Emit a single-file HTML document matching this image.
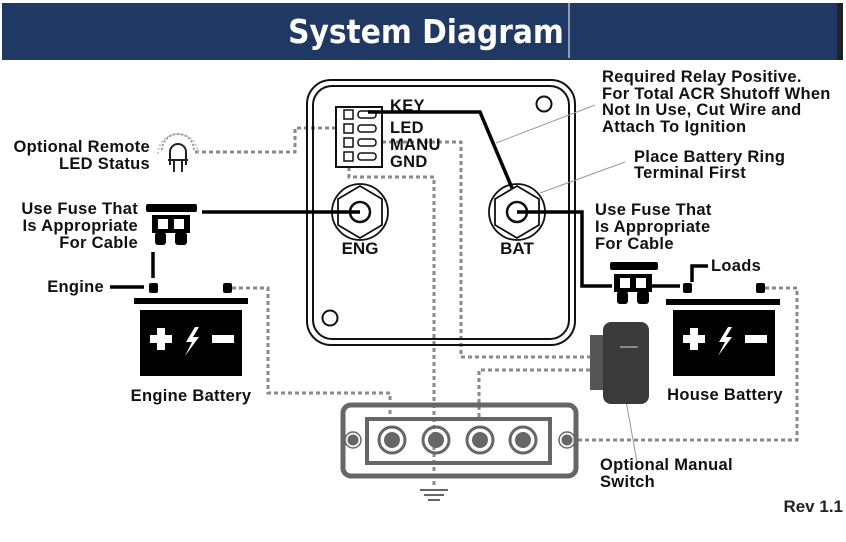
<!DOCTYPE html>
<html><head><meta charset="utf-8"><style>
body{margin:0;background:#fff;width:846px;height:542px;overflow:hidden}
svg{display:block}
text{font-family:"Liberation Sans",Arial,sans-serif;font-weight:bold;fill:#111}
</style></head><body>
<svg width="846" height="542" viewBox="0 0 846 542">
<rect x="2" y="3" width="838" height="57" fill="#1f3864"/>
<rect x="837" y="3" width="6" height="57" fill="#222"/>
<line x1="569" y1="0" x2="569" y2="58" stroke="#fff" stroke-width="1"/>
<text x="426" y="43" text-anchor="middle" style="font-size:33px;fill:#fff;font-family:'DejaVu Sans Condensed','Liberation Sans Narrow','Liberation Sans',sans-serif">System Diagram</text>

<g fill="none" stroke="#8a8a8a" stroke-width="3" stroke-dasharray="4 3">
<polyline points="195,152 295,152 295,128 335,128"/>
<polyline points="349,167 349,177 434,177 434,485"/>
<polyline points="382,142 461,142 461,357 590,357"/>
<polyline points="590,370 479,370 479,420"/>
<polyline points="232,288 268,288 268,393 390,393 390,420"/>
<polyline points="765,288 797,288 797,440 575,440"/>
</g>

<rect x="307" y="80" width="268" height="265" rx="24" fill="none" stroke="#111" stroke-width="2"/>
<rect x="313" y="86" width="256" height="253" rx="19" fill="none" stroke="#111" stroke-width="2"/>
<circle cx="544" cy="104" r="7.5" fill="none" stroke="#111" stroke-width="2"/>
<circle cx="330" cy="318" r="7.5" fill="none" stroke="#111" stroke-width="2"/>
<rect x="336" y="107" width="46" height="60" fill="#fff" stroke="#111" stroke-width="2"/>
<g fill="#fff" stroke="#111" stroke-width="1.5">
<rect x="344" y="110" width="9" height="9"/><rect x="344" y="124" width="9" height="9"/>
<rect x="344" y="138" width="9" height="9"/><rect x="344" y="152" width="9" height="9"/>
<rect x="358" y="111" width="18" height="7" rx="3"/><rect x="358" y="125" width="18" height="7" rx="3"/>
<rect x="358" y="139" width="18" height="7" rx="3"/><rect x="358" y="153" width="18" height="7" rx="3"/>
</g>
<g style="font-size:16.5px;letter-spacing:0.3px">
<text x="390" y="111">KEY</text>
<text x="390" y="133">LED</text>
<text x="390" y="150">MANU</text>
<text x="390" y="167">GND</text>
</g>
<g fill="none" stroke="#111" stroke-width="1.8">
<circle cx="360" cy="212" r="28"/>
<polygon points="360,186 382,199 382,225 360,238 338,225 338,199"/>
<circle cx="360" cy="212" r="10" stroke-width="2.5"/>
<circle cx="517" cy="212" r="28"/>
<polygon points="517,186 539,199 539,225 517,238 495,225 495,199"/>
<circle cx="517" cy="212" r="10" stroke-width="2.5"/>
</g>
<text x="360" y="254" text-anchor="middle" style="font-size:17px">ENG</text>
<text x="517" y="254" text-anchor="middle" style="font-size:17px">BAT</text>

<g fill="none" stroke="#000" stroke-width="3.5">
<polyline points="368,112 480,112 512,188"/>
<line x1="202" y1="212" x2="360" y2="212"/>
<polyline points="517,212 582,212 582,286 612,286"/>
<line x1="650" y1="286" x2="680" y2="286"/>
<polyline points="692,282 692,266 708,266"/>
<line x1="153" y1="252" x2="153" y2="278"/>
<line x1="110" y1="287" x2="144" y2="287"/>
</g>
<g stroke="#999" stroke-width="1" fill="none">
<line x1="496" y1="143" x2="595" y2="105"/>
<line x1="540" y1="193" x2="625" y2="162"/>
<line x1="625" y1="395" x2="637" y2="462"/>
</g>

<g fill="#000">
<rect x="146" y="204" width="51" height="8" rx="2"/>
<rect x="152" y="215" width="38" height="18"/>
<rect x="155" y="232" width="11" height="13" rx="3"/>
<rect x="175" y="232" width="12" height="13" rx="3"/>
<rect x="610" y="262" width="48" height="8" rx="2"/>
<rect x="614" y="274" width="38" height="18"/>
<rect x="617" y="291" width="11" height="13" rx="3"/>
<rect x="637" y="291" width="12" height="13" rx="3"/>
</g>
<g fill="#fff"><rect x="158" y="219" width="10" height="10"/><rect x="174" y="219" width="10" height="10"/>
<rect x="620" y="278" width="10" height="10"/><rect x="636" y="278" width="10" height="10"/></g>

<g fill="#000">
<rect x="149" y="283" width="9" height="10" rx="2"/><rect x="223" y="283" width="9" height="10" rx="2"/>
<rect x="134" y="298" width="114" height="6"/><rect x="140" y="310" width="102" height="66"/>
<rect x="683" y="283" width="9" height="10" rx="2"/><rect x="756" y="283" width="9" height="10" rx="2"/>
<rect x="666" y="299" width="114" height="6"/><rect x="673" y="310" width="102" height="66"/>
</g>
<g fill="#fff">
<rect x="150" y="335" width="22" height="8"/><rect x="157" y="328" width="8" height="22"/>
<rect x="212" y="335" width="22" height="8"/>
<polygon points="195,327 186,342 192,342 185,356 199,337 193,337 199,327"/>
<rect x="683" y="335" width="22" height="8"/><rect x="690" y="328" width="8" height="22"/>
<rect x="745" y="335" width="22" height="8"/>
<polygon points="728,327 719,342 725,342 718,356 732,337 726,337 732,327"/>
</g>

<rect x="590" y="335" width="15" height="55" fill="#555"/>
<rect x="603" y="322" width="46" height="82" rx="8" fill="#3a3a3a"/>
<rect x="620" y="346" width="18" height="2" fill="#888"/>

<rect x="343" y="405" width="233" height="71" rx="8" fill="none" stroke="#666" stroke-width="5"/>
<rect x="367" y="419" width="183" height="44" fill="none" stroke="#666" stroke-width="4"/>
<g fill="#666"><circle cx="392" cy="440" r="8"/><circle cx="436" cy="440" r="8"/><circle cx="480" cy="440" r="8"/><circle cx="523" cy="440" r="8"/>
<circle cx="353" cy="440" r="5.5"/><circle cx="567" cy="440" r="5.5"/></g>
<g fill="none" stroke="#666" stroke-width="3">
<circle cx="392" cy="440" r="13"/><circle cx="436" cy="440" r="13"/><circle cx="480" cy="440" r="13"/><circle cx="523" cy="440" r="13"/>
<circle cx="353" cy="440" r="8" stroke-width="1.5"/><circle cx="567" cy="440" r="8" stroke-width="1.5"/>
</g>
<g stroke="#666" stroke-width="2"><line x1="420" y1="490" x2="448" y2="490"/><line x1="424" y1="495" x2="444" y2="495"/><line x1="428" y1="500" x2="440" y2="500"/></g>

<path d="M170,165 L170,152 A8,8 0 0 1 186,152 L186,165" fill="none" stroke="#222" stroke-width="2"/>
<line x1="168" y1="160" x2="188" y2="160" stroke="#222" stroke-width="2"/>
<line x1="174" y1="160" x2="174" y2="172" stroke="#222" stroke-width="2"/><line x1="182" y1="160" x2="182" y2="172" stroke="#222" stroke-width="2"/>
<path d="M162,150 A16,16 0 0 1 194,150" fill="none" stroke="#999" stroke-width="2" stroke-dasharray="2 2"/>
<path d="M158,154 A20,20 0 0 1 198,154" fill="none" stroke="#bbb" stroke-width="1.5" stroke-dasharray="2 2"/>

<g style="font-size:16.5px;letter-spacing:0.3px">
<text x="150" y="152" text-anchor="end">Optional Remote</text>
<text x="150" y="169" text-anchor="end">LED Status</text>
<text x="138" y="214" text-anchor="end">Use  Fuse That</text>
<text x="138" y="231" text-anchor="end">Is Appropriate</text>
<text x="138" y="248" text-anchor="end">For Cable</text>
<text x="104" y="292" text-anchor="end">Engine</text>
<text x="191" y="401" text-anchor="middle">Engine Battery</text>
<text x="602" y="82">Required Relay Positive.</text>
<text x="602" y="99">For Total ACR Shutoff When</text>
<text x="602" y="115">Not In Use, Cut Wire and</text>
<text x="602" y="132">Attach To Ignition</text>
<text x="634" y="162">Place Battery Ring</text>
<text x="634" y="178">Terminal First</text>
<text x="595" y="215">Use  Fuse That</text>
<text x="595" y="232">Is Appropriate</text>
<text x="595" y="249">For Cable</text>
<text x="711" y="271">Loads</text>
<text x="725" y="400" text-anchor="middle">House Battery</text>
<text x="600" y="470">Optional Manual</text>
<text x="600" y="487">Switch</text>
</g>
<text x="843" y="512" text-anchor="end" style="font-size:17px;fill:#222">Rev 1.1</text>
</svg>
</body></html>
